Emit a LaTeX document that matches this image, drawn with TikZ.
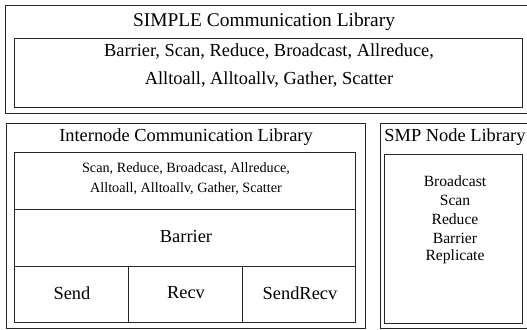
\documentclass[tikz,border=0pt]{standalone}
\usepackage{fontspec}
\setmainfont{Liberation Serif}
\usetikzlibrary{positioning}

\begin{document}
\begin{tikzpicture}[x=0.5pt,y=-0.5pt,line width=0.5pt,
                    box/.style={draw=black!85},
                    titletxt/.style={font=\fontsize{9.7}{14}\selectfont,align=center,inner sep=0},
                    midtxt/.style={font=\fontsize{9.2}{14}\selectfont,align=center,inner sep=0},
                    smptxt/.style={font=\fontsize{7.8}{9.5}\selectfont,inner sep=0},
                    smalltxt/.style={font=\fontsize{7.1}{10}\selectfont,align=center,inner sep=0}]
  \useasboundingbox (0,0) rectangle (527,329);

  % SIMPLE layer
  \draw[box] (6,5) rectangle (535,113);
  \draw[box] (15,38) rectangle (523,107);
  \node[titletxt] (simple) at (264,22) {SIMPLE Communication Library};
  \node[midtxt] (simpleops) at (269,66) {Barrier, Scan, Reduce, Broadcast, Allreduce,\\Alltoall, Alltoallv, Gather, Scatter};

  % internode layer
  \draw[box] (7,123) rectangle (366,328);
  \draw[box] (15,152) rectangle (356,322);
  \draw[box] (15,209) -- (356,209);
  \draw[box] (15,266) -- (356,266);
  \draw[box] (129,266) -- (129,322);
  \draw[box] (243,266) -- (243,322);
  \node[midtxt] (inter) at (186,137) {Internode Communication Library};
  \node[smalltxt] (interops) at (186,179) {Scan, Reduce, Broadcast, Allreduce,\\Alltoall, Alltoallv, Gather, Scatter};
  \node[midtxt] (barrier) at (186,236) {Barrier};
  \node[midtxt] (send) at (72,293) {Send};
  \node[midtxt] (recv) at (186,293) {Recv};
  \node[midtxt] (sendrecv) at (300,293) {SendRecv};

  % SMP layer
  \draw[box] (381,123) rectangle (528,328);
  \draw[box] (385,154) rectangle (523,323);
  \node[midtxt] (smp) at (455,137) {SMP Node Library};
  \foreach \op [count=\i] in {Broadcast,Scan,Reduce,Barrier,Replicate}
    \node[smptxt] (smp\i) at (455,162+19*\i) {\op};
\end{tikzpicture}
\end{document}
